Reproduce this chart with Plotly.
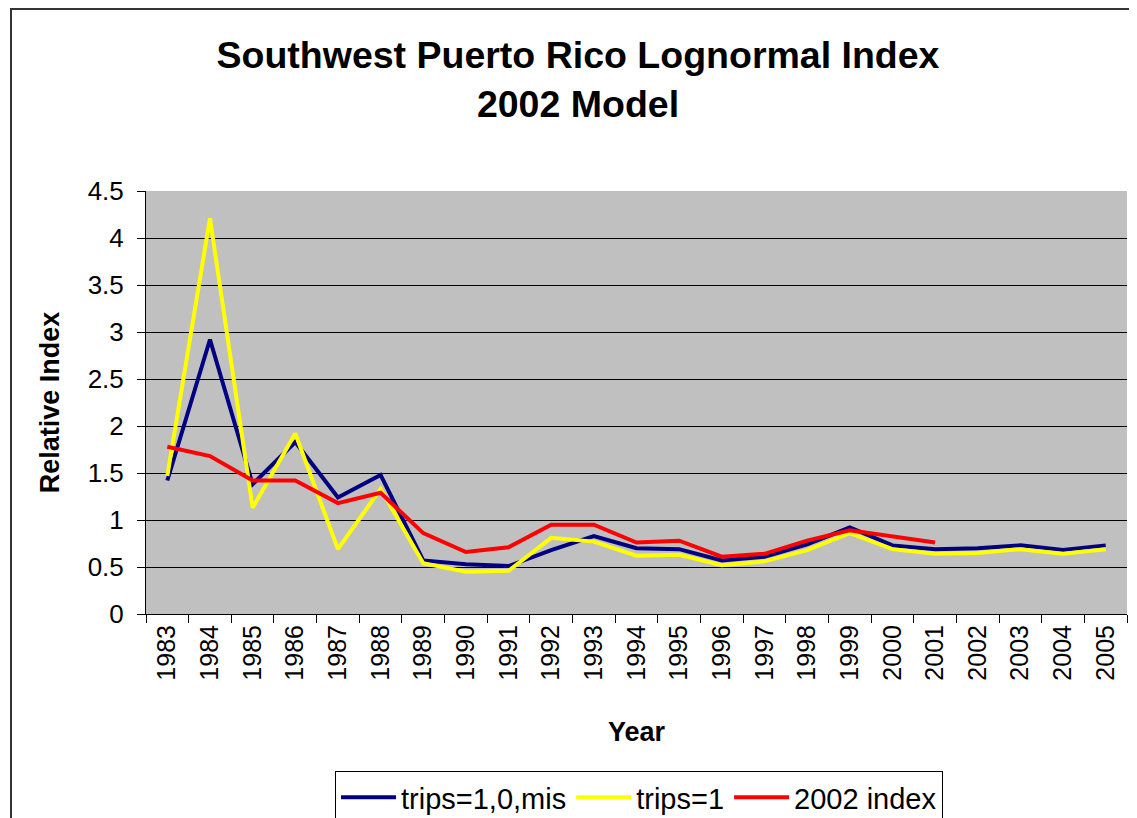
import plotly.graph_objects as go

years = [str(y) for y in range(1983, 2006)]
trips_all = [1.42, 2.92, 1.38, 1.83, 1.24, 1.48, 0.57, 0.53, 0.51, 0.68, 0.83, 0.70,
             0.69, 0.57, 0.61, 0.74, 0.92, 0.73, 0.69, 0.70, 0.73, 0.68, 0.73]
trips_1 = [1.47, 4.21, 1.13, 1.92, 0.69, 1.33, 0.54, 0.45, 0.46, 0.81, 0.77, 0.62,
           0.63, 0.52, 0.56, 0.68, 0.86, 0.69, 0.64, 0.65, 0.69, 0.64, 0.69]
index_2002 = [1.78, 1.68, 1.42, 1.42, 1.18, 1.29, 0.86, 0.66, 0.71, 0.95, 0.95, 0.76,
              0.78, 0.61, 0.64, 0.78, 0.89, 0.82, 0.76, None, None, None, None]

FONT = "Arial, 'Liberation Sans', sans-serif"

fig = go.Figure()
fig.add_trace(go.Scatter(x=years, y=trips_all, mode="lines", name="trips=1,0,mis",
                         line=dict(color="#000080", width=4)))
fig.add_trace(go.Scatter(x=years, y=trips_1, mode="lines", name="trips=1",
                         line=dict(color="#FFFF00", width=4)))
fig.add_trace(go.Scatter(x=years, y=index_2002, mode="lines", name="2002 index",
                         line=dict(color="#FF0000", width=4)))

OFF = 8  # page body margin offset
W, H = 1137 - OFF, 818 - OFF
# target plot area in screenshot pixels
PX0, PX1, PY0, PY1 = 146, 1127, 191, 614
L, R = PX0 - OFF, W - (PX1 - OFF)
T, B = PY0 - OFF, H - (PY1 - OFF)
pw, ph = W - L - R, H - T - B

def px_x(p):
    return (p - OFF - L) / pw

def px_y(p):
    return (H - B - (p - OFF)) / ph

fig.update_layout(
    width=W, height=H,
    margin=dict(l=L, r=R, t=T, b=B, autoexpand=False),
    paper_bgcolor="white",
    plot_bgcolor="#C0C0C0",
    font=dict(family=FONT, color="black", size=25),
    title=dict(text="<b>Southwest Puerto Rico Lognormal Index<br>2002 Model</b>",
               x=(578 - OFF) / W, xanchor="center", y=1 - 60 / H, yanchor="top",
               font=dict(family=FONT, size=37.5, color="black")),
    showlegend=True,
    legend=dict(orientation="h", x=px_x(335), xanchor="left", y=px_y(771), yanchor="top",
                bordercolor="black", borderwidth=1, bgcolor="white",
                font=dict(family=FONT, size=29, color="black"),
                itemwidth=55, traceorder="normal", tracegroupgap=0),
    xaxis=dict(type="category", range=[-0.5, 22.5], tickangle=-90,
               ticks="outside", tickson="boundaries", ticklen=8, tickcolor="black",
               showline=True, linecolor="black", linewidth=1, showgrid=False,
               tickfont=dict(family=FONT, size=25, color="black"),
               title=dict(text="<b>Year</b>", standoff=42,
                          font=dict(family=FONT, size=27, color="black"))),
    yaxis=dict(range=[0, 4.5], dtick=0.5, ticks="outside", ticklen=8, tickcolor="black",
               ticklabelstandoff=8,
               showline=True, linecolor="black", linewidth=1,
               showgrid=True, gridcolor="black", gridwidth=1, zeroline=False,
               tickfont=dict(family=FONT, size=26, color="black"),
               title=dict(text="<b>Relative Index</b>", standoff=20,
                          font=dict(family=FONT, size=27, color="black"))),
)

# outer chart border (top edge kept just inside the figure)
fig.add_shape(type="rect", xref="paper", yref="paper",
              x0=px_x(11), x1=px_x(1137 + 30), y0=px_y(818 + 30), y1=px_y(OFF + 1),
              line=dict(color="#333333", width=2), fillcolor="rgba(0,0,0,0)", layer="below")

fig.write_html("out.html")
